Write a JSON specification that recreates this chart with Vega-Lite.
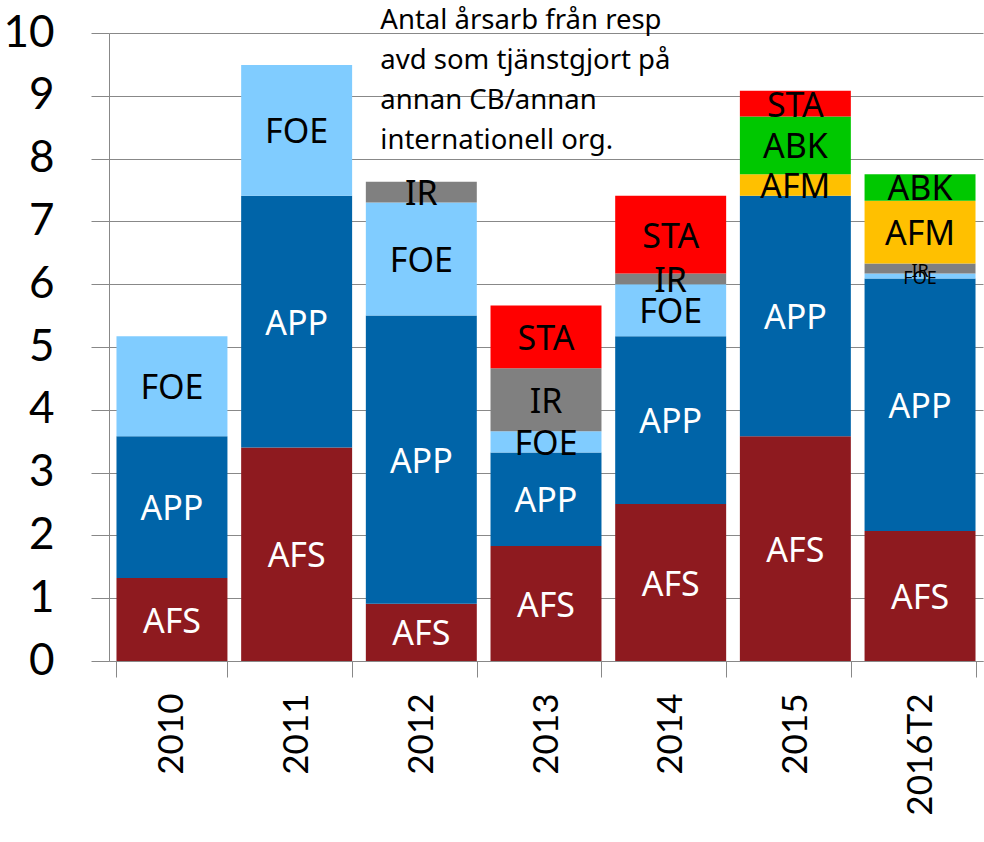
{
  "$schema": "https://vega.github.io/schema/vega-lite/v6.json",
  "autosize": {"type": "none"},
  "width": 874,
  "height": 628,
  "padding": {"left": 109, "top": 33, "right": 1, "bottom": 181},
  "background": "white",
  "config": {"view": {"stroke": null}, "font": "Noto Sans"},
  "data": {"values": [
    {"year": "2010", "cat": "AFS", "value": 1.32},
    {"year": "2010", "cat": "APP", "value": 2.26},
    {"year": "2010", "cat": "FOE", "value": 1.59},
    {"year": "2011", "cat": "AFS", "value": 3.40},
    {"year": "2011", "cat": "APP", "value": 4.01},
    {"year": "2011", "cat": "FOE", "value": 2.08},
    {"year": "2012", "cat": "AFS", "value": 0.91},
    {"year": "2012", "cat": "APP", "value": 4.59},
    {"year": "2012", "cat": "FOE", "value": 1.80},
    {"year": "2012", "cat": "IR", "value": 0.33},
    {"year": "2013", "cat": "AFS", "value": 1.83},
    {"year": "2013", "cat": "APP", "value": 1.49},
    {"year": "2013", "cat": "FOE", "value": 0.34},
    {"year": "2013", "cat": "IR", "value": 1.00},
    {"year": "2013", "cat": "STA", "value": 1.00},
    {"year": "2014", "cat": "AFS", "value": 2.50},
    {"year": "2014", "cat": "APP", "value": 2.67},
    {"year": "2014", "cat": "FOE", "value": 0.83},
    {"year": "2014", "cat": "IR", "value": 0.17},
    {"year": "2014", "cat": "STA", "value": 1.24},
    {"year": "2015", "cat": "AFS", "value": 3.58},
    {"year": "2015", "cat": "APP", "value": 3.83},
    {"year": "2015", "cat": "AFM", "value": 0.34},
    {"year": "2015", "cat": "ABK", "value": 0.92},
    {"year": "2015", "cat": "STA", "value": 0.41},
    {"year": "2016T2", "cat": "AFS", "value": 2.07},
    {"year": "2016T2", "cat": "APP", "value": 4.02},
    {"year": "2016T2", "cat": "FOE", "value": 0.08},
    {"year": "2016T2", "cat": "IR", "value": 0.16},
    {"year": "2016T2", "cat": "AFM", "value": 1.00},
    {"year": "2016T2", "cat": "ABK", "value": 0.42}
  ]},
  "transform": [
    {"calculate": "indexof(['AFS','APP','FOE','IR','AFM','ABK','STA'], datum.cat)", "as": "ord"},
    {"stack": "value", "groupby": ["year"], "sort": [{"field": "ord", "order": "ascending"}], "as": ["v0", "v1"]},
    {"calculate": "(datum.v0 + datum.v1) / 2", "as": "mid"}
  ],
  "encoding": {
    "x": {
      "field": "year", "type": "nominal", "sort": null,
      "scale": {"paddingInner": 0.11, "paddingOuter": 0.06},
      "axis": {
        "title": null, "tickBand": "extent", "tickSize": 16, "tickColor": "#888888",
        "domainColor": "#888888", "labelAngle": 270, "labelAlign": "right", "labelBaseline": "middle",
        "labelPadding": 16, "labelFontSize": 35, "labelFont": "Lato", "labelColor": "black", "grid": false
      }
    }
  },
  "layer": [
    {
      "mark": {"type": "bar"},
      "encoding": {
        "y": {
          "field": "v0", "type": "quantitative",
          "scale": {"domain": [0, 10], "nice": false},
          "axis": {
            "title": null, "values": [0,1,2,3,4,5,6,7,8,9,10], "format": "d", "grid": true, "gridColor": "#888888",
            "tickColor": "#888888", "tickSize": 18, "domainColor": "#888888",
            "labelPadding": 37, "labelFontSize": 44, "labelFont": "Lato", "labelColor": "black"
          }
        },
        "y2": {"field": "v1"},
        "color": {
          "field": "cat", "type": "nominal", "legend": null,
          "scale": {
            "domain": ["AFS", "APP", "FOE", "IR", "AFM", "ABK", "STA"],
            "range": ["#8E1A1F", "#0064A8", "#80CCFF", "#808080", "#FFC000", "#00C800", "#FF0000"]
          }
        }
      }
    },
    {
      "mark": {"type": "text", "baseline": "middle", "align": "center", "fontSize": 34, "dy": 3},
      "encoding": {
        "y": {"field": "mid", "type": "quantitative"},
        "text": {"field": "cat"},
        "size": {
          "condition": {"test": "datum.year == '2016T2' && (datum.cat == 'IR' || datum.cat == 'FOE')", "value": 18},
          "value": 34
        },
        "color": {
          "condition": {"test": "datum.cat == 'AFS' || datum.cat == 'APP'", "value": "white"},
          "value": "black"
        }
      }
    },
    {
      "data": {"values": [{"k": 1}]},
      "transform": [],
      "mark": {
        "type": "text", "align": "left", "baseline": "alphabetic", "fontSize": 27.5, "lineHeight": 40,
        "dx": -41, "dy": -4, "color": "black",
        "text": ["Antal årsarb från resp", "avd som tjänstgjort på", "annan CB/annan", "internationell org."]
      },
      "encoding": {
        "x": {"datum": "2012"},
        "y": {"datum": 10}
      }
    }
  ]
}
